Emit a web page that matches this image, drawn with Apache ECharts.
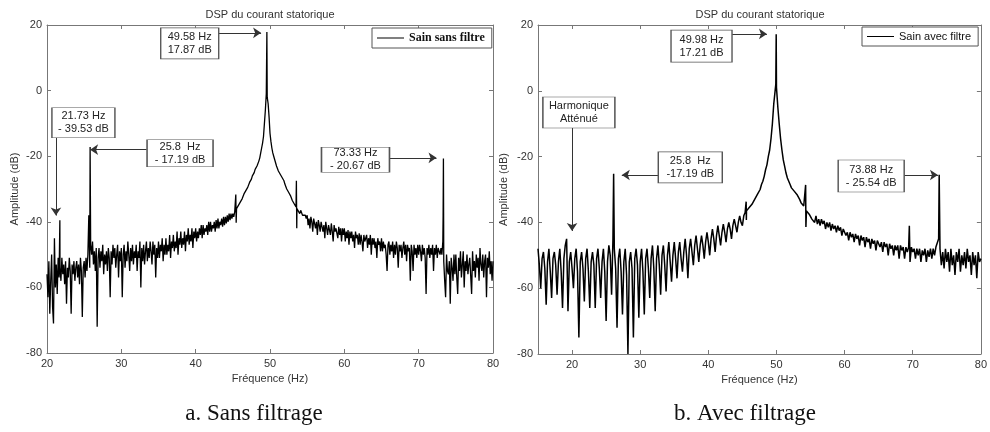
<!DOCTYPE html>
<html>
<head>
<meta charset="utf-8">
<script src="https://cdn.jsdelivr.net/npm/echarts@6.0.0/dist/echarts.min.js"></script>
<style>
    html, body { margin: 0; padding: 0; background: #fff; }
    #chartView { width: 990px; height: 432px; }
</style>
</head>
<body>
<div id="chartView"></div>
<script>
    // a. Sans filtrage : DSP (dB) sampled every 0.125 Hz from 20 Hz to 80 Hz (one row = 5 Hz)
    var startA = 20, stepA = 0.125;
    var dbA = [
        -56, -63, -52, -68, -58, -50, -66, -71, -45, -60, -53, -62, -51, -57, -54, -58,
        -51, -56, -53, -59, -52, -65, -54, -57, -51, -55, -68, -53, -56, -52, -58, -54,
        -52, -57, -53, -59, -51, -55, -69, -54,

        -52, -57, -51, -55, -50, -38, -54, -47, -50, -46, -53, -49, -55, -48, -72, -51,
        -48, -54, -49, -52, -47, -56, -50, -53, -49, -55, -48, -51, -63, -49, -53, -47,
        -51, -48, -54, -50, -47, -57, -49, -52,

        -48, -63, -50, -47, -54, -49, -52, -46, -50, -55, -48, -52, -47, -53, -49, -51,
        -47, -55, -49, -51, -46, -60, -48, -52, -47, -53, -49, -46, -52, -48, -51, -46,
        -49, -53, -46, -50, -47, -57, -48, -51,

        -46, -51, -47, -49, -45, -52, -47, -50, -45, -50, -47, -49, -44, -51, -46, -48,
        -44, -49, -46, -48, -43, -50, -45, -47, -43, -48, -45, -47, -43, -49, -44, -46,
        -42, -47, -44, -46, -42, -48, -43, -45,

        -42, -46, -43, -45, -42, -44, -41, -45, -41, -44, -42, -43, -41, -44, -40, -43,
        -40, -43, -41, -42, -40, -43, -39.5, -42, -39, -42, -40, -41, -39, -41.5, -38.5, -41,
        -38.5, -40.5, -38, -40, -37.5, -39.5, -37.5, -39,

        -37.5, -38.5, -37, -36.5, -36, -35.5, -35, -34.5, -34, -33.5, -33, -32.5, -31.5, -31, -30.5, -30,
        -29.5, -29, -28, -27.5, -27, -26, -25.5, -25, -24, -23.5, -23, -22.5, -21.5, -20.5, -19, -17.5,
        -16, -14, -10, -6, -1, -2, -4, -8,

        -13, -15.5, -17.5, -19, -20, -21, -22, -23, -23.5, -24.5, -25, -25.5, -26, -26.5, -27, -27.5,
        -28.5, -29, -30, -30.5, -31, -31.5, -32, -32.5, -33.5, -34, -34.5, -35, -35.5, -36, -36.5, -36,
        -37.5, -36.5, -37, -38, -38.5, -37.5, -38, -39,

        -38, -41, -39, -42, -38.5, -40, -43, -39, -39, -42, -40, -44, -39.5, -41, -43, -40,
        -40, -43, -41, -45, -40, -42, -44, -41, -41, -44, -40.5, -43, -46, -41, -43, -42,
        -42, -45, -41.5, -44, -42, -46, -42, -44,

        -42, -46, -43, -45, -42.5, -47, -43, -45, -43, -46, -44, -48, -43, -45, -44, -47,
        -43.5, -47, -44, -46, -49, -44, -46, -45, -44, -48, -45, -47, -44, -50, -45, -47,
        -45, -48, -46, -51, -45, -47, -46, -49,

        -45, -49, -46, -48, -47, -50, -55, -47, -46, -50, -47, -49, -46, -51, -47, -50,
        -46, -48, -54, -47, -49, -47, -51, -48, -46, -50, -47, -52, -47, -49, -48, -58,
        -47, -49, -55, -47, -50, -48, -51, -47,

        -50, -47, -49, -52, -47, -50, -48, -51, -62, -48, -50, -47, -51, -48, -50, -47,
        -55, -48, -50, -47, -51, -48, -49, -50, -48, -50, -46, -52, -58, -63, -50, -55,
        -56, -52, -65, -51, -54, -58, -50, -56,

        -50, -57, -62, -51, -55, -49, -57, -53, -49, -60, -52, -55, -50, -56, -53, -51,
        -51, -62, -49, -55, -52, -57, -50, -54, -51, -58, -48, -53, -55, -50, -57, -52,
        -50, -63, -51, -54, -49, -56, -52, -58,

        -52
    ];
    // narrow lines that fall between the samples [Hz, dB]
    var peaksA = [
        [21.73, -39.53], [25.8, -17.19], [45.4, -31.7], [45.45, -40.3], [49.58, 17.87],
        [53.55, -27.5], [53.6, -42], [73.29, -38], [73.33, -20.67], [73.36, -40]
    ];

    // b. Avec filtrage : DSP (dB) sampled every 0.2 Hz from 15 Hz to 80 Hz
    var startB = 15, stepB = 0.2;
    var dbB = [
        -48, -53, -60, -51, -49, -54, -65, -52, -48, -55, -63, -51, -49, -53, -62, -52, -48, -55, -66, -51, -47, -45, -67, -52, -49,
        -54, -60, -51, -48, -55, -75, -52, -49, -54, -64, -51, -48, -55, -66, -52, -49, -53, -66, -51, -48, -54, -63, -52, -48, -55,
        -70, -52, -47, -50, -62, -45, -48, -54, -72, -51, -48, -55, -68, -52, -48, -56, -80, -52, -49, -54, -75, -51, -48, -53, -69,
        -52, -48, -55, -68, -51, -48, -54, -63, -51, -47, -54, -67, -51, -47, -53, -62, -50, -47, -53, -61, -50, -46, -52, -58, -50,
        -46, -51, -57, -49, -46, -51, -55, -49, -45, -50, -57, -48, -45, -49, -53, -47, -44, -48, -52, -47, -44, -47, -51, -46, -43,
        -46, -50, -45, -42, -45, -49, -44, -41, -44, -47, -43, -40.5, -43, -46, -42, -40, -42, -45, -41, -39, -41, -43, -40, -38, -40,
        -41, -38, -37, -36.5, -36, -35.5, -35, -34.5, -34, -33, -32.5, -31.5, -31, -30, -28.5, -27.5, -26, -24, -22.5, -20, -18, -14.5, -10, -4, 0,
        1, -5, -10, -14.5, -18, -21, -23, -25, -26.5, -27.5, -28.5, -29.5, -30, -30.5, -31, -31.5, -32, -33, -34, -34.5, -35, -35.5, -36.5, -36.5, -37.5,
        -37, -39, -38.5, -40, -38, -40.5, -39, -41, -39, -40.5, -39.5, -42, -40, -41.5, -40, -42.5, -40.5, -42, -41, -43, -41, -42.5, -41.5, -44, -42,
        -42.5, -44, -43, -45.5, -43, -44.5, -43.5, -46, -43.5, -45, -44, -47, -44, -45.5, -44.5, -47.5, -44.5, -46, -45, -48, -45, -46.5, -45.5, -48.5, -45.5,
        -46, -47.5, -46, -49, -46, -47.5, -46.5, -50, -46.5, -48, -47, -50, -47, -48.5, -47, -51, -47, -48.5, -47.5, -51, -47.5, -49, -47.5, -52, -47.5,
        -49, -48, -51, -48, -50, -48, -52, -48.5, -50, -48, -52, -48.5, -50.5, -48, -51, -48, -50, -47.5, -47, -45, -48, -53, -49, -54, -48,
        -52, -49, -55, -48, -53, -50, -56, -49, -52, -48, -55, -50, -53, -49, -54, -48, -52, -50, -56, -49, -53, -50, -57, -49, -52,
        -51
    ];
    var peaksB = [
        [26.1, -25.2], [45.55, -33.7], [45.58, -39.3], [49.9, 2], [49.96, 17.21],
        [54.28, -28.6], [54.32, -41.4], [69.5, -41], [73.88, -25.54]
    ];

    var xTicksA = [20, 30, 40, 50, 60, 70, 80];
    var xTicksB = [20, 30, 40, 50, 60, 70, 80];

    // boxes + arrows, in data coordinates of each chart
    var notesA = [
        {text: '49.58 Hz\n17.87 dB', at: [39.2, 14.4], size: [58, 31], from: [43.1, 17.6], to: [48.8, 17.6]},
        {text: '21.73 Hz\n- 39.53 dB', at: [24.9, -9.8], size: [63, 30], from: [21.2, -14.4], to: [21.2, -38.1]},
        {text: '25.8  Hz\n- 17.19 dB', at: [37.9, -19.1], size: [66, 27], from: [33.4, -18.0], to: [25.8, -18.0]},
        {text: '73.33 Hz\n- 20.67 dB', at: [61.5, -21.1], size: [68, 25], from: [66.1, -20.5], to: [72.4, -20.5]}
    ];
    var notesB = [
        {text: '49.98 Hz\n17.21 dB', at: [39.0, 13.6], size: [61, 32], from: [43.5, 17.3], to: [48.6, 17.3]},
        {text: 'Harmonique\nAtténué', at: [21.0, -6.6], size: [72, 31], from: [20.0, -11.3], to: [20.0, -42.6]},
        {text: '25.8  Hz\n-17.19 dB', at: [37.35, -23.3], size: [64, 31], from: [32.7, -25.6], to: [27.3, -25.6]},
        {text: '73.88 Hz\n- 25.54 dB', at: [63.9, -25.9], size: [66, 32], from: [68.75, -25.6], to: [73.7, -25.6]}
    ];

    var axisColor = '#777';
    var textColor = '#333';
    var sansFont = '"Liberation Sans", Arial, sans-serif';
    var serifFont = '"Liberation Serif", "Times New Roman", serif';

    function buildLine(start, step, values, peaks) {
        var thePoints = values.map(function (v, i) {
            return [Math.round((start + i * step) * 1000) / 1000, v];
        });
        return thePoints.concat(peaks).sort(function (a, b) { return a[0] - b[0]; });
    }

    function buildArrows(notes) {
        return {
            silent: true,
            animation: false,
            symbol: ['none', 'arrow'],
            symbolSize: 8,
            label: {show: false},
            lineStyle: {color: '#333', width: 1, type: 'solid'},
            emphasis: {disabled: true},
            data: notes.map(function (n) {
                return [{coord: n.from}, {coord: n.to}];
            })
        };
    }

    function buildBoxes(notes) {
        return {
            silent: true,
            animation: false,
            emphasis: {disabled: true},
            data: notes.map(function (n) {
                return {
                    coord: n.at,
                    symbol: 'rect',
                    symbolSize: n.size,
                    itemStyle: {color: '#fff', borderColor: '#555', borderWidth: 1},
                    label: {
                        show: true, position: 'inside', formatter: n.text,
                        color: '#222', fontSize: 11, lineHeight: 13, fontFamily: sansFont
                    }
                };
            })
        };
    }

    function xAxes(gridIndex, min, max, ticks) {
        var theBottom = {
            gridIndex: gridIndex, type: 'value', position: 'bottom', min: min, max: max,
            name: 'Fréquence (Hz)', nameLocation: 'middle', nameGap: 15,
            nameTextStyle: {color: textColor, fontSize: 11, fontFamily: sansFont},
            axisLine: {onZero: false, lineStyle: {color: axisColor}},
            axisTick: {inside: true, length: 4, customValues: ticks, lineStyle: {color: axisColor}},
            axisLabel: {customValues: ticks, color: textColor, fontSize: 11, margin: 5, fontFamily: sansFont},
            splitLine: {show: false}
        };
        var theTop = {
            gridIndex: gridIndex, type: 'value', position: 'top', min: min, max: max,
            axisLine: {onZero: false, lineStyle: {color: axisColor}},
            axisTick: {inside: true, length: 4, customValues: ticks, lineStyle: {color: axisColor}},
            axisLabel: {show: false},
            splitLine: {show: false}
        };
        return [theBottom, theTop];
    }

    function yAxes(gridIndex, nameGap) {
        var theLeft = {
            gridIndex: gridIndex, type: 'value', position: 'left', min: -80, max: 20, interval: 20,
            name: 'Amplitude (dB)', nameLocation: 'middle', nameGap: nameGap,
            nameTextStyle: {color: textColor, fontSize: 11, fontFamily: sansFont},
            axisLine: {show: true, onZero: false, lineStyle: {color: axisColor}},
            axisTick: {show: true, inside: true, length: 4, lineStyle: {color: axisColor}},
            axisLabel: {color: textColor, fontSize: 11, margin: 5, fontFamily: sansFont},
            splitLine: {show: false}
        };
        var theRight = {
            gridIndex: gridIndex, type: 'value', position: 'right', min: -80, max: 20, interval: 20,
            axisLine: {show: true, onZero: false, lineStyle: {color: axisColor}},
            axisTick: {show: true, inside: true, length: 4, lineStyle: {color: axisColor}},
            axisLabel: {show: false},
            splitLine: {show: false}
        };
        return [theLeft, theRight];
    }

    function legendFor(name, left, top, font, size, weight) {
        return {
            data: [name], left: left, top: top, orient: 'horizontal',
            selectedMode: false, icon: 'rect', itemWidth: 27, itemHeight: 1, itemGap: 5,
            padding: [4, 7, 4, 5], borderColor: '#555', borderWidth: 1, backgroundColor: '#fff',
            textStyle: {color: '#111', fontSize: size, fontWeight: weight, fontFamily: font}
        };
    }

    function centerText(x, y, text, font, color) {
        return {
            type: 'text', x: x, y: y, silent: true,
            style: {
                text: text, font: font, fill: color,
                align: 'center', verticalAlign: 'middle',
                textAlign: 'center', textVerticalAlign: 'middle'
            }
        };
    }

    var theXAxesA = xAxes(0, 20, 80, xTicksA);
    var theXAxesB = xAxes(1, 15, 80, xTicksB);

    var option = {
        animation: false,
        backgroundColor: '#fff',
        grid: [
            {left: 47, top: 25, width: 446, height: 328},
            {left: 538, top: 25, width: 445, height: 329}
        ],
        xAxis: theXAxesA.concat(theXAxesB),
        yAxis: yAxes(0, 27).concat(yAxes(1, 29)),
        legend: [
            legendFor('Sain sans filtre', 372, 28, serifFont, 12, 'bold'),
            legendFor('Sain avec filtre', 862, 27, sansFont, 11, 'normal')
        ],
        graphic: [
            centerText(270, 15, 'DSP du courant statorique', '11px ' + sansFont, textColor),
            centerText(760, 15, 'DSP du courant statorique', '11px ' + sansFont, textColor),
            centerText(254, 414, 'a. Sans filtrage', '23px ' + serifFont, '#111'),
            centerText(745, 414, 'b. Avec filtrage', '23px ' + serifFont, '#111')
        ],
        series: [
            {
                name: 'Sain sans filtre', type: 'line', xAxisIndex: 0, yAxisIndex: 0,
                data: buildLine(startA, stepA, dbA, peaksA),
                symbol: 'none', showSymbol: false, silent: true, sampling: null,
                lineStyle: {color: '#000', width: 1.3}, itemStyle: {color: '#000'},
                markLine: buildArrows(notesA),
                markPoint: buildBoxes(notesA)
            },
            {
                name: 'Sain avec filtre', type: 'line', xAxisIndex: 2, yAxisIndex: 2,
                data: buildLine(startB, stepB, dbB, peaksB),
                symbol: 'none', showSymbol: false, silent: true, sampling: null,
                lineStyle: {color: '#000', width: 1.5}, itemStyle: {color: '#000'},
                markLine: buildArrows(notesB),
                markPoint: buildBoxes(notesB)
            }
        ]
    };

    var chartView = echarts.init(document.getElementById('chartView'));
    chartView.setOption(option);
</script>
</body>
</html>
